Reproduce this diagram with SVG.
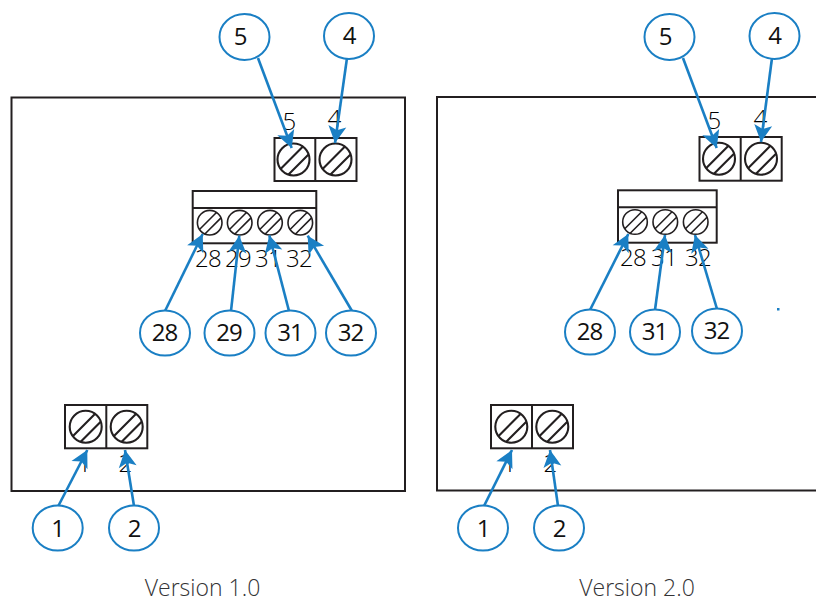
<svg xmlns="http://www.w3.org/2000/svg" xmlns:xlink="http://www.w3.org/1999/xlink" width="816" height="603" viewBox="0 0 816 603">
<style>
text{font-family:"Open Sans","Noto Sans",sans-serif;font-weight:300;fill:#231f20;text-anchor:middle}
.t{font-size:24px;letter-spacing:-.8px;fill:#000}
.c{font-size:24px;font-weight:400;fill:#111;letter-spacing:-1px}
.v{font-size:23px;fill:#333335}
.panel{fill:none;stroke:#231f20;stroke-width:2}
.box{fill:none;stroke:#231f20;stroke-width:2}
.sb{fill:none;stroke:#231f20;stroke-width:2.1}
.ss{fill:none;stroke:#231f20;stroke-width:1.6}
.bub{fill:#fff;stroke:#1a7fc4;stroke-width:2}
.conn{stroke:#1a7fc4;stroke-width:2.6;fill:none;marker-end:url(#ah)}
</style>
<defs>
<marker id="ah" markerUnits="userSpaceOnUse" markerWidth="24" markerHeight="24" viewBox="-22 -12 24 24" refX="0" refY="0" orient="auto">
<path d="M0 0L-17 -9L-13 0L-17 9Z" fill="#1a7fc4"/>
</marker>
<g id="s16"><circle r="16" class="sb"/><path d="M-12.7 9.2L9.2 -12.7M-5 15L15 -5" class="sb"/></g>
<g id="s12"><circle r="12.3" class="ss"/><path d="M-10.25 6.75L6.75 -10.25M-4.8 11.3L11.3 -4.8" class="ss"/></g>
</defs>

<rect id="panel-v1" class="panel" x="11.5" y="97.5" width="393.5" height="393.5"/>
<rect id="panel-v2" class="panel" x="437" y="97" width="381" height="393.5"/>

<g id="terminal-v1-top">
<text class="t" x="289" y="130">5</text><text class="t" x="334" y="127">4</text>
<rect class="box" x="274.5" y="138" width="82" height="43"/><path class="box" d="M315.3 138V181"/>
<use xlink:href="#s16" href="#s16" x="293.5" y="159.5"/><use xlink:href="#s16" href="#s16" x="335.5" y="159.5"/>
</g>
<g id="terminal-v1-mid">
<text class="t" x="208" y="267">28</text><text class="t" x="238" y="267">29</text><text class="t" x="268" y="267">31</text><text class="t" x="299" y="267">32</text>
<rect class="box" x="192.7" y="191" width="123.6" height="52.3"/><path class="box" d="M192.7 208H316.3"/>
<use xlink:href="#s12" href="#s12" x="209.7" y="222.7"/><use xlink:href="#s12" href="#s12" x="239.7" y="222.7"/><use xlink:href="#s12" href="#s12" x="270" y="222.7"/><use xlink:href="#s12" href="#s12" x="300.3" y="222.7"/>
</g>
<g id="terminal-v1-bottom">
<text class="t" x="84" y="472">1</text><text class="t" x="125" y="472">2</text>
<rect class="box" x="65" y="405" width="82.3" height="43.3"/><path class="box" d="M106.3 405V448.3"/>
<use xlink:href="#s16" href="#s16" x="85.7" y="426.7"/><use xlink:href="#s16" href="#s16" x="126.7" y="426.7"/>
</g>

<g id="terminal-v2-top">
<text class="t" x="714" y="129">5</text><text class="t" x="760" y="127">4</text>
<rect class="box" x="699.5" y="137" width="82.2" height="43.7"/><path class="box" d="M740.7 137V180.7"/>
<use xlink:href="#s16" href="#s16" x="719" y="158.7"/><use xlink:href="#s16" href="#s16" x="761" y="158.7"/>
</g>
<g id="terminal-v2-mid">
<text class="t" x="633" y="266">28</text><text class="t" x="664" y="266">31</text><text class="t" x="698" y="266">32</text>
<rect class="box" x="618" y="190.3" width="98.7" height="52.4"/><path class="box" d="M618 207.3H716.7"/>
<use xlink:href="#s12" href="#s12" x="635" y="222"/><use xlink:href="#s12" href="#s12" x="665.3" y="222"/><use xlink:href="#s12" href="#s12" x="695.7" y="222"/>
</g>
<g id="terminal-v2-bottom">
<text class="t" x="509" y="472">1</text><text class="t" x="550" y="472">2</text>
<rect class="box" x="491" y="405" width="82" height="43.3"/><path class="box" d="M532 405V448.3"/>
<use xlink:href="#s16" href="#s16" x="511.3" y="426.7"/><use xlink:href="#s16" href="#s16" x="552.3" y="426.7"/>
</g>

<g id="connectors">
<path class="conn" d="M258 58L291.7 148"/>
<path class="conn" d="M347 58L335 143"/>
<path class="conn" d="M165 311L202.7 234"/>
<path class="conn" d="M231 311L239.3 235.7"/>
<path class="conn" d="M289 311L269.3 235.3"/>
<path class="conn" d="M352 311L307.7 235.7"/>
<path class="conn" d="M58.3 506L87.3 450"/>
<path class="conn" d="M134 506L125 450"/>
<path class="conn" d="M683 58L716.7 148"/>
<path class="conn" d="M772 58L761 142"/>
<path class="conn" d="M590 310L628.3 234"/>
<path class="conn" d="M655 310L665 235"/>
<path class="conn" d="M717 309L695 235"/>
<path class="conn" d="M484 506L512 450"/>
<path class="conn" d="M558 506L550 450"/>
</g>

<g id="n5a"><ellipse class="bub" cx="244.5" cy="37" rx="25" ry="23"/><text class="c" x="240" y="45">5</text></g>
<g id="n4a"><ellipse class="bub" cx="349" cy="36" rx="25" ry="23"/><text class="c" x="349" y="44">4</text></g>
<g id="n28a"><ellipse class="bub" cx="165" cy="333" rx="25" ry="22.5"/><text class="c" x="164.5" y="341">28</text></g>
<g id="n29a"><ellipse class="bub" cx="229.5" cy="333" rx="25" ry="22.5"/><text class="c" x="229" y="341">29</text></g>
<g id="n31a"><ellipse class="bub" cx="290.5" cy="333" rx="25" ry="22.5"/><text class="c" x="290" y="341">31</text></g>
<g id="n32a"><ellipse class="bub" cx="351" cy="333" rx="25" ry="22.5"/><text class="c" x="350.5" y="341">32</text></g>
<g id="n1a"><ellipse class="bub" cx="57.7" cy="528" rx="25" ry="22.5"/><text class="c" x="57.7" y="537">1</text></g>
<g id="n2a"><ellipse class="bub" cx="134" cy="528" rx="25" ry="22.5"/><text class="c" x="134" y="537">2</text></g>

<g id="n5b"><ellipse class="bub" cx="669.5" cy="37" rx="25" ry="23"/><text class="c" x="665" y="45">5</text></g>
<g id="n4b"><ellipse class="bub" cx="774.5" cy="36" rx="25" ry="23"/><text class="c" x="774.5" y="44">4</text></g>
<g id="n28b"><ellipse class="bub" cx="590" cy="332" rx="25" ry="22.5"/><text class="c" x="589.5" y="340">28</text></g>
<g id="n31b"><ellipse class="bub" cx="655" cy="332" rx="25" ry="22.5"/><text class="c" x="654.5" y="340">31</text></g>
<g id="n32b"><ellipse class="bub" cx="717" cy="331" rx="25" ry="22.5"/><text class="c" x="716.5" y="339">32</text></g>
<g id="n1b"><ellipse class="bub" cx="483" cy="528" rx="25" ry="22.5"/><text class="c" x="483" y="537">1</text></g>
<g id="n2b"><ellipse class="bub" cx="559" cy="528" rx="25" ry="22.5"/><text class="c" x="559" y="537">2</text></g>

<rect x="777" y="308" width="2.5" height="2.5" fill="#1a7fc4"/>
<text class="v" x="202.5" y="596">Version 1.0</text>
<text class="v" x="637" y="596">Version 2.0</text>
</svg>
